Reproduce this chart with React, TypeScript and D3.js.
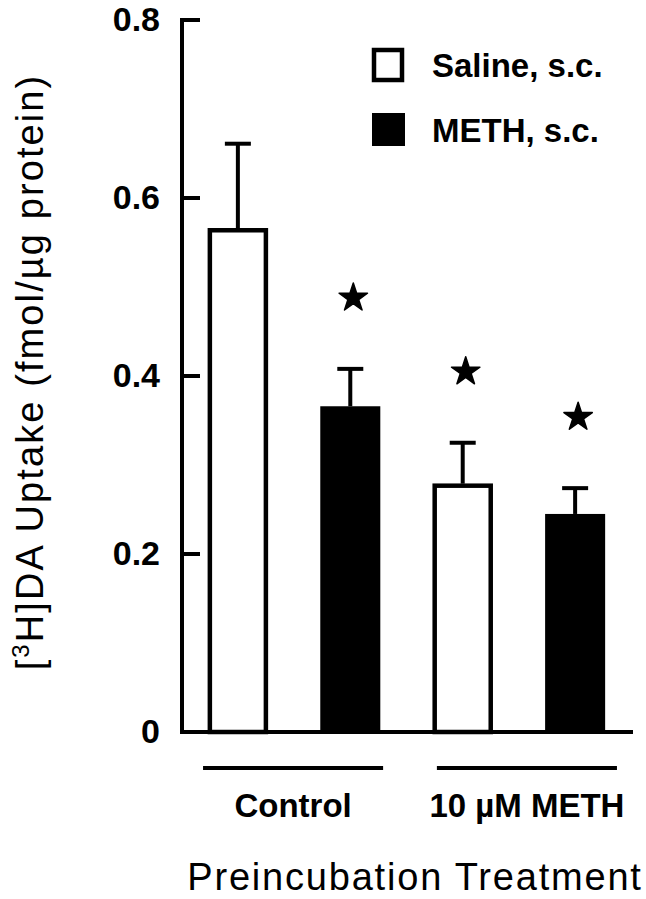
import React, { useEffect, useRef } from "react";
import * as d3 from "d3";

// data
const groups = ["Control", "10 \u00b5M METH"];
const seriesNames = ["Saline, s.c.", "METH, s.c."];
const salineMeans = [0.566, 0.279];
const salineErrors = [0.095, 0.046];
const methMeans = [0.366, 0.245];
const methErrors = [0.042, 0.029];
const salineSignificant = [false, true];
const methSignificant = [true, true];
const yTicks = [0, 0.2, 0.4, 0.6, 0.8];
const yTickLabels = ["0", "0.2", "0.4", "0.6", "0.8"];

const App = () => {
  const svgRef = useRef<SVGSVGElement>(null);

  useEffect(() => {
    const svg = d3.select(svgRef.current);
    svg.selectAll("*").remove();

    const width = 646;
    const height = 899;
    const margin = { top: 20, bottom: 167, left: 182, right: 13 };
    const font = "'Liberation Sans', Arial, Helvetica, sans-serif";

    const bars = groups.flatMap((g, i) => [
      { key: g + "|0", group: g, series: 0, value: salineMeans[i], err: salineErrors[i], sig: salineSignificant[i] },
      { key: g + "|1", group: g, series: 1, value: methMeans[i], err: methErrors[i], sig: methSignificant[i] }
    ]);

    const x = d3.scaleBand()
      .domain(bars.map(d => d.key))
      .range([margin.left, width - 15])
      .paddingInner(0.466)
      .paddingOuter(0.23);

    const xGroup = d3.scaleBand()
      .domain(groups)
      .range([margin.left, width - 8])
      .paddingInner(0.23)
      .paddingOuter(0.09);

    const y = d3.scaleLinear()
      .domain([0, 0.8])
      .range([height - margin.bottom, margin.top]);

    const y0 = y(0);

    // bars
    svg.append("g")
      .selectAll("rect")
      .data(bars)
      .enter()
      .append("rect")
      .attr("x", d => x(d.key)! + (d.series === 0 ? 2 : 0))
      .attr("y", d => y(d.value) + (d.series === 0 ? 2 : 0))
      .attr("width", d => x.bandwidth() - (d.series === 0 ? 4 : 0))
      .attr("height", d => y0 - y(d.value) - (d.series === 0 ? 2 : 0))
      .attr("fill", d => d.series === 0 ? "#fff" : "#000")
      .attr("stroke", "#000")
      .attr("stroke-width", d => d.series === 0 ? 4.5 : 0);

    // upper error bars
    const eb = svg.append("g").attr("stroke", "#000").attr("stroke-width", 4);
    bars.forEach(d => {
      const cx = x(d.key)! + x.bandwidth() / 2;
      eb.append("line")
        .attr("x1", cx).attr("x2", cx)
        .attr("y1", y(d.value)).attr("y2", y(d.value + d.err));
      eb.append("line")
        .attr("x1", cx - 13).attr("x2", cx + 13)
        .attr("y1", y(d.value + d.err)).attr("y2", y(d.value + d.err));
    });

    // significance stars
    const star = d3.symbol().type(d3.symbolStar).size(250);
    svg.append("g")
      .selectAll("path")
      .data(bars.filter(d => d.sig))
      .enter()
      .append("path")
      .attr("d", star)
      .attr("fill", "#000")
      .attr("stroke", "#000")
      .attr("stroke-width", 1.5)
      .attr("stroke-linejoin", "round")
      .attr("transform", d =>
        `translate(${x(d.key)! + x.bandwidth() / 2 + 3}, ${y(d.value + d.err) - 71})`);

    // axes
    const axis = svg.append("g").attr("stroke", "#000").attr("stroke-width", 4);
    axis.append("line")
      .attr("x1", margin.left).attr("x2", margin.left)
      .attr("y1", y(0.8) - 2).attr("y2", y0 + 2);
    axis.append("line")
      .attr("x1", margin.left - 2).attr("x2", width - 13)
      .attr("y1", y0).attr("y2", y0);
    axis.selectAll(".tick")
      .data(yTicks)
      .enter()
      .append("line")
      .attr("x1", margin.left).attr("x2", margin.left + 18)
      .attr("y1", d => y(d)).attr("y2", d => y(d));

    svg.append("g")
      .selectAll("text")
      .data(yTicks)
      .enter()
      .append("text")
      .attr("x", margin.left - 22)
      .attr("y", d => y(d) + 11)
      .attr("text-anchor", "end")
      .attr("font-family", font)
      .attr("font-weight", "bold")
      .attr("font-size", 34)
      .text((d, i) => yTickLabels[i]);

    // group underlines and labels
    const gl = svg.append("g");
    groups.forEach(g => {
      const gx = xGroup(g)!;
      gl.append("line")
        .attr("x1", gx).attr("x2", gx + xGroup.bandwidth())
        .attr("y1", y0 + 36).attr("y2", y0 + 36)
        .attr("stroke", "#000").attr("stroke-width", 4);
      gl.append("text")
        .attr("x", gx + xGroup.bandwidth() / 2)
        .attr("y", y0 + 85)
        .attr("text-anchor", "middle")
        .attr("font-family", font)
        .attr("font-weight", "bold")
        .attr("font-size", 33)
        .text(g);
    });

    // x title
    svg.append("text")
      .attr("x", (margin.left + width) / 2 + 1)
      .attr("y", height - 9)
      .attr("text-anchor", "middle")
      .attr("font-family", font)
      .attr("font-size", 38)
      .attr("letter-spacing", 1.8)
      .text("Preincubation Treatment");

    // y title
    const yt = svg.append("text")
      .attr("transform", `translate(43, ${(y(0.8) + y0) / 2 - 4}) rotate(-90)`)
      .attr("text-anchor", "middle")
      .attr("font-family", font)
      .attr("font-size", 38)
      .attr("letter-spacing", 2.1);
    yt.append("tspan").text("[");
    yt.append("tspan").attr("font-size", 24).attr("dy", -14).text("3");
    yt.append("tspan").attr("dy", 14).text("H]DA Uptake (fmol/\u00b5g protein)");

    // legend
    const legend = svg.append("g").attr("transform", "translate(372, 48)");
    seriesNames.forEach((name, i) => {
      const row = legend.append("g").attr("transform", `translate(0, ${i * 65})`);
      row.append("rect")
        .attr("x", i === 0 ? 2 : 0).attr("y", i === 0 ? 2 : 0)
        .attr("width", i === 0 ? 28 : 33).attr("height", i === 0 ? 30 : 33)
        .attr("fill", i === 0 ? "#fff" : "#000")
        .attr("stroke", "#000")
        .attr("stroke-width", i === 0 ? 4.5 : 0);
      row.append("text")
        .attr("x", 60).attr("y", 29)
        .attr("font-family", font)
        .attr("font-weight", "bold")
        .attr("font-size", 33)
        .text(name);
    });
  }, []);

  return (
    <svg
      ref={svgRef}
      width={646}
      height={899}
      style={{ position: "absolute", left: 0, top: 0, background: "#fff" }}
    />
  );
};

export default App;
